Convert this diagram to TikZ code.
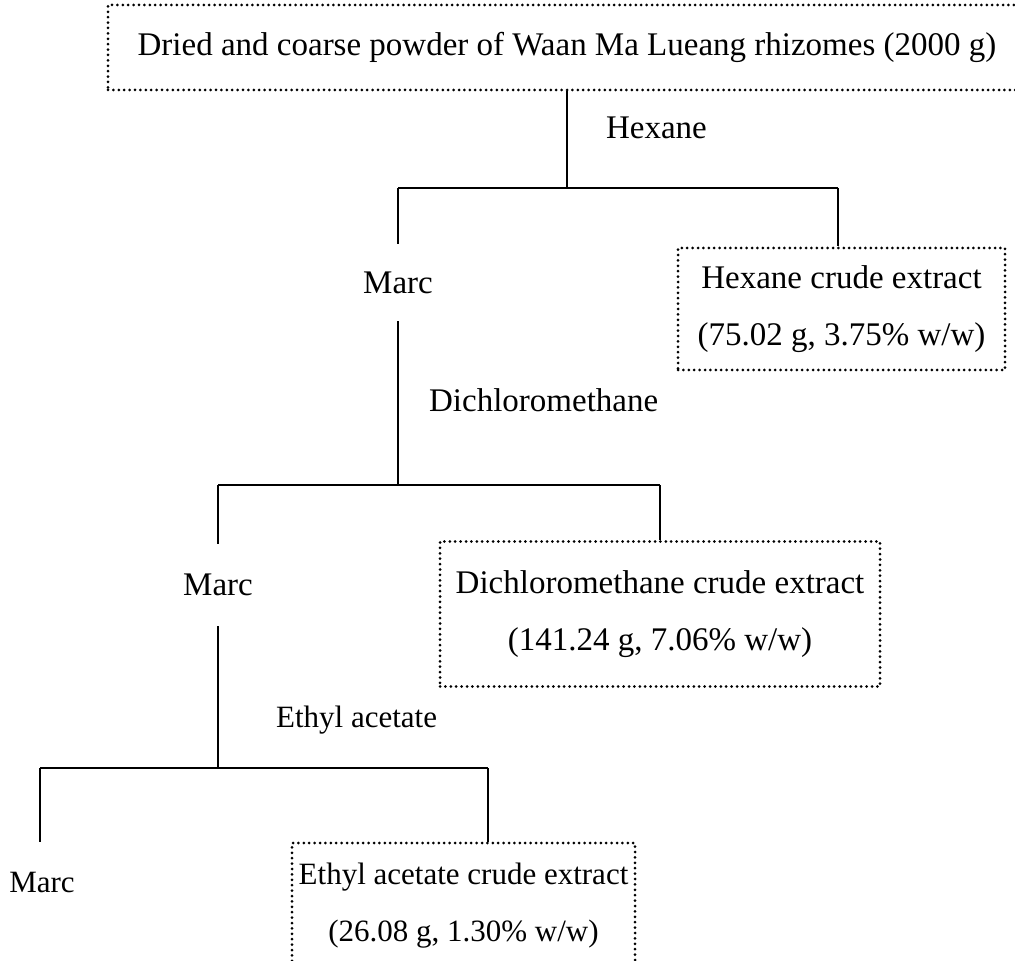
\documentclass[tikz,border=0pt]{standalone}
\usepackage{fontspec}
\setmainfont{Liberation Serif}
\usetikzlibrary{positioning}

\begin{document}
\begin{tikzpicture}[x=0.5pt,y=-0.5pt,line width=1.1pt,
    box node/.style={draw,line width=1.5pt,dash pattern=on 0pt off 2.7pt,line cap=round,align=center,inner sep=0pt,font=\fontsize{16.5}{28.5}\selectfont},
    text node/.style={font=\fontsize{16.5}{20}\selectfont,inner sep=1pt},
    small/.style={font=\fontsize{15.5}{28.5}\selectfont}]
    \useasboundingbox (0,0) rectangle (1015,961);

    % starting material and extracts
    \node[box node,minimum width=459pt,minimum height=42.5pt] (0) at (567,47.5) {Dried and coarse powder of Waan Ma Lueang rhizomes (2000 g)};
    \node[box node,minimum width=163.5pt,minimum height=61pt] (1) at (841.5,309) {Hexane crude extract\\(75.02 g, 3.75\% w/w)};
    \node[box node,minimum width=220pt,minimum height=72.5pt] (2) at (660,614) {Dichloromethane crude extract\\(141.24 g, 7.06\% w/w)};
    \node[box node,small,minimum width=171.5pt,minimum height=62.5pt] (3) at (463.5,905.5) {Ethyl acetate crude extract\\(26.08 g, 1.30\% w/w)};

    % marc
    \node[text node,minimum height=37.5pt] (m1) at (398,282.5) {Marc};
    \node[text node,minimum height=40pt] (m2) at (218,585) {Marc};
    \node[text node,small] (m3) at (42,882) {Marc};

    % solvents
    \node[text node,anchor=west] (h) at (603,128) {Hexane};
    \node[text node,anchor=west] (d) at (426,400) {Dichloromethane};
    \node[text node,small,anchor=west] (e) at (273,720) {Ethyl acetate};

    % junctions
    \coordinate (s1) at (567,188);
    \coordinate (l1) at (398,188);
    \coordinate (r1) at (838,188);
    \coordinate (s2) at (398,485);
    \coordinate (l2) at (218,485);
    \coordinate (r2) at (660,485);
    \coordinate (s3) at (218,768);
    \coordinate (l3) at (40,768);
    \coordinate (r3) at (488,768);

    \draw (0) -- (s1);
    \draw (l1) -- (r1);
    \draw (l1) -- (m1) -- (s2);
    \draw (r1) -- (r1 |- 1.north);
    \draw (l2) -- (r2);
    \draw (l2) -- (m2) -- (s3);
    \draw (r2) -- (2);
    \draw (l3) -- (r3);
    \draw (l3) -- (l3 |- 0,842);
    \draw (r3) -- (r3 |- 3.north);
\end{tikzpicture}
\end{document}
